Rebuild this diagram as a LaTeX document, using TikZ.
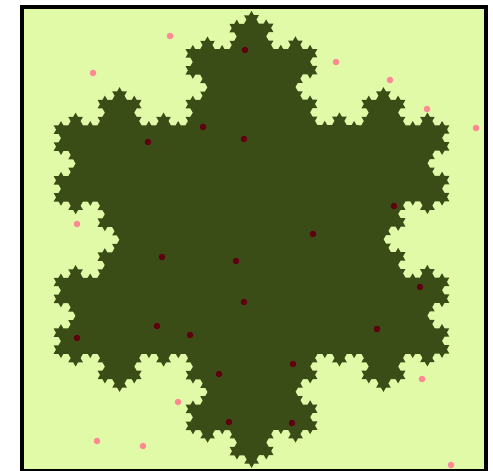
\documentclass[tikz,border=0pt]{standalone}
\usepackage{tikz}
\usetikzlibrary{decorations.fractals}
\usepackage{xcolor}

\definecolor{paleground}{HTML}{E0FAA8}
\definecolor{flakegreen}{HTML}{3B4D16}
\definecolor{insidedot}{HTML}{5E0010}
\definecolor{outsidedot}{HTML}{FF8A94}

\begin{document}
\begin{tikzpicture}[
    x=0.02cm, y=-0.02cm,
    frame/.style={draw=black, line width=0.08cm, fill=paleground},
    flake/.style={fill=flakegreen, decoration=Koch snowflake},
    hit/.style={fill=insidedot},
    miss/.style={fill=outsidedot}
]

\useasboundingbox (0,0) rectangle (493,470);

% Frame
\begin{scope}
\clip (0,0) rectangle (493,470);
\draw[frame] (22,7) rectangle (485.5,471);
\end{scope}

% Snowflake corners
\coordinate (top) at (251.5,11);
\coordinate (lowright) at (449.4,353.8);
\coordinate (lowleft) at (53.6,353.8);

% Snowflake
\fill[flake] decorate{ decorate{ decorate{ decorate{
    (top) -- (lowright) -- (lowleft) -- cycle }}}};

% Points inside
\foreach \px/\py in {245/50, 203/127, 244/139, 148/142, 394/206, 313/234,
    162/257, 236/261, 244/302, 157/326, 190/335, 77/338, 219/374, 229/422,
    420/287, 377/329, 293/364, 292/423}
    \fill[hit] (\px,\py) circle (3.3);

% Points outside
\foreach \px/\py in {170/36, 93/73, 77/224, 336/62, 390/80, 427/109,
    476/128, 178/402, 97/441, 143/446, 422/379, 451/465}
    \fill[miss] (\px,\py) circle (3.3);

\end{tikzpicture}
\end{document}
